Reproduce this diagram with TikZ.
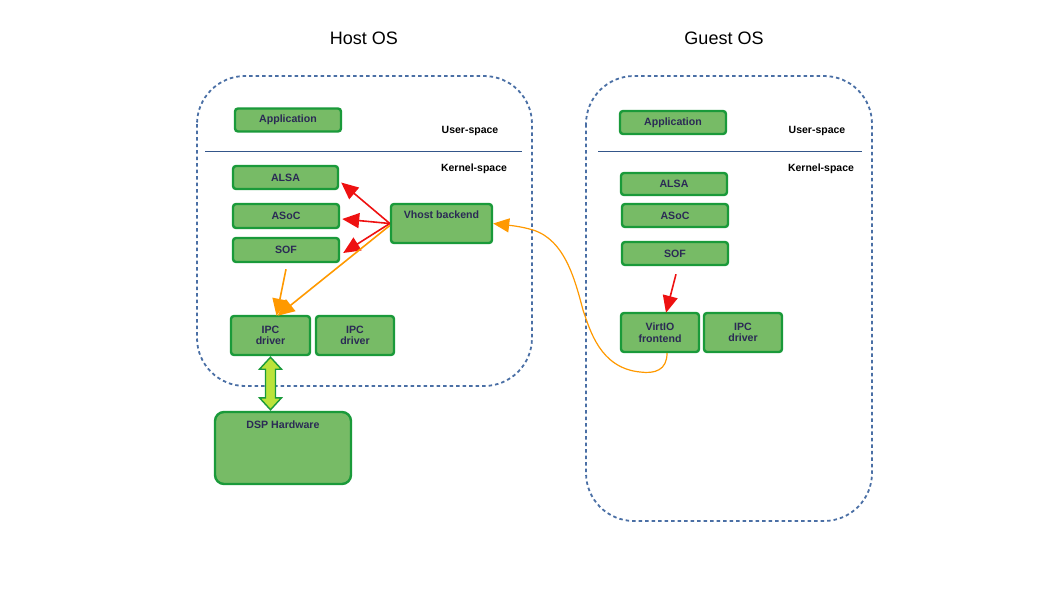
\documentclass[tikz,border=0pt]{standalone}
\usepackage{fontspec}
\setmainfont{Liberation Sans}
\usetikzlibrary{arrows.meta,calc}
\definecolor{boxfill}{HTML}{77BB66}
\definecolor{boxline}{HTML}{1A9A3A}
\definecolor{boxtext}{HTML}{2B2A55}
\definecolor{dashblue}{HTML}{4A6FA5}
\definecolor{divline}{HTML}{34568A}
\definecolor{orangec}{HTML}{FF9900}
\definecolor{redc}{HTML}{EE1111}
\definecolor{dblfill}{HTML}{BBE33A}
\begin{document}
\begin{tikzpicture}[x=1pt,y=-1pt,
  box/.style={draw=boxline,fill=boxfill,line width=2.4pt,rounded corners=3pt,
    text=boxtext,font=\bfseries\fontsize{10.6}{11.5}\selectfont,inner sep=0pt,align=center},
  osbox/.style={draw=dashblue,line width=1.8pt,dash pattern=on 3.5pt off 3pt,rounded corners=48pt},
  title/.style={font=\fontsize{18}{20}\selectfont,text=black},
  space/.style={font=\bfseries\fontsize{10.5}{12}\selectfont,text=black},
  redarrow/.style={draw=redc,line width=1.6pt,-{Triangle[length=17pt,width=15pt]}},
  orgarrow/.style={draw=orangec,line width=1.6pt,-{Triangle[length=17pt,width=15pt]}}]
\useasboundingbox (0,0) rectangle (1058,595);
% titles
\node[title] (thost) at (364,38) {Host OS};
\node[title] (tguest) at (724,38) {Guest OS};
% OS containers
\draw[osbox] (197,76) rectangle (532,386);
\draw[osbox] (586,76) rectangle (872,521);
\draw[divline,line width=0.8pt] (205,151) -- (522,151);
\draw[divline,line width=0.8pt] (598,151) -- (862,151);
\node[space] (hus) at (470,131) {User-space};
\node[space] (hks) at (474,169) {Kernel-space};
\node[space] (gus) at (817,131) {User-space};
\node[space] (gks) at (821,169) {Kernel-space};
% host boxes
\node[box,minimum width=106pt,minimum height=23pt] (happ) at (288,120) {Application};
\node[box,minimum width=105pt,minimum height=23pt] (halsa) at (285.5,177.5) {ALSA};
\node[box,minimum width=106pt,minimum height=24pt] (hasoc) at (286,216) {ASoC};
\node[box,minimum width=106pt,minimum height=24pt] (hsof) at (286,250) {SOF};
\node[box,minimum width=101pt,minimum height=39pt,
  label={[box,draw=none,fill=none,anchor=north,yshift=-7pt]north:Vhost backend}] (vhost) at (441.5,223.5) {};
\node[box,minimum width=79pt,minimum height=39pt] (hipc1) at (270.5,335.5) {IPC\\driver};
\node[box,minimum width=78pt,minimum height=39pt] (hipc2) at (355,335.5) {IPC\\driver};
\node[box,minimum width=136pt,minimum height=72pt,rounded corners=9pt,
  label={[box,draw=none,fill=none,anchor=north,yshift=-9pt]north:DSP Hardware}] (dsp) at (283,448) {};
% guest boxes
\node[box,minimum width=106pt,minimum height=23pt] (gapp) at (673,122.5) {Application};
\node[box,minimum width=106pt,minimum height=22pt] (galsa) at (674,184) {ALSA};
\node[box,minimum width=106pt,minimum height=23pt] (gasoc) at (675,215.5) {ASoC};
\node[box,minimum width=106pt,minimum height=23pt] (gsof) at (675,253.5) {SOF};
\node[box,minimum width=78pt,minimum height=39pt] (gvirt) at (660,332.5) {VirtIO\\frontend};
\node[box,minimum width=78pt,minimum height=39pt] (gipc) at (743,332.5) {IPC\\driver};
% red arrows host
\draw[redarrow] (vhost.west) -- ([yshift=-5pt,xshift=2pt]halsa.east);
\draw[redarrow] (vhost.west) -- ([yshift=-3pt,xshift=2pt]hasoc.east);
\draw[redarrow] (vhost.west) -- ([yshift=-3pt,xshift=3pt]hsof.east);
% orange arrows host
\draw[orgarrow] ([yshift=-2pt]vhost.west) -- ([xshift=7pt,yshift=-1pt]hipc1.north);
\draw[orgarrow] ($(hsof.south)+(0,6)$) -- ([xshift=6pt,yshift=-1pt]hipc1.north);
% guest red arrow
\draw[redarrow] ($(gsof.south)+(1,8)$) -- ([xshift=6pt,yshift=-1pt]gvirt.north);
% orange curve
\draw[draw=orangec,line width=1.2pt,-{Triangle[length=16pt,width=14pt]}]
  ([xshift=7pt]gvirt.south) .. controls (667,370) and (655,374) .. (640,372)
  .. controls (600,368) and (590,330) .. (583,310)
  .. controls (575,280) and (565,240) .. (533,230)
  .. controls (520,226) and (506,225) .. (vhost.east);
% double arrow
\coordinate (da) at (hipc1.south);
\coordinate (db) at (hipc1.south |- dsp.north);
\draw[boxline,fill=dblfill,line width=1.4pt,line join=miter]
  ($(da)+(0,1)$) -- ($(da)+(11,13)$) -- ($(da)+(5,13)$) -- ($(db)+(5,-13)$) -- ($(db)+(11,-13)$)
  -- ($(db)+(0,-1)$) -- ($(db)+(-11,-13)$) -- ($(db)+(-5,-13)$) -- ($(da)+(-5,13)$) -- ($(da)+(-11,13)$) -- cycle;
\end{tikzpicture}
\end{document}
